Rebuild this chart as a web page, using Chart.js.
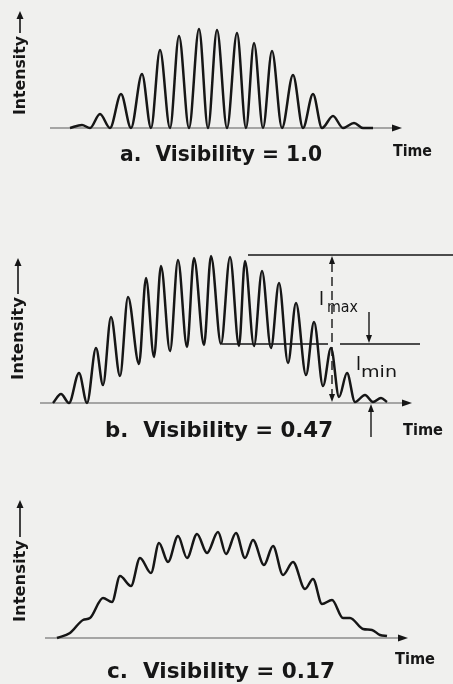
<!DOCTYPE html>
<html>
<head>
<meta charset="utf-8">
<script src="https://cdn.jsdelivr.net/npm/chart.js@4.4.0/dist/chart.umd.min.js"></script>
<style>
    html, body { margin: 0; padding: 0; background: #f0f0ee; }
    body { width: 453px; height: 684px; position: relative; overflow: hidden; }
    .panel { position: absolute; left: 0; width: 453px; }
</style>
</head>
<body>
<div class="panel" style="top:0;height:170px"><canvas id="chartA"></canvas></div>
<div class="panel" style="top:230px;height:220px"><canvas id="chartB"></canvas></div>
<div class="panel" style="top:470px;height:214px"><canvas id="chartC"></canvas></div>
<script>
// Panel a: visibility 1.0 (fringes go to zero)
const timeA = [3.0, 4.2, 5.0, 6.0, 7.0, 8.1, 9.1, 10.2, 11.1, 12.0, 13.0, 13.9, 14.9, 15.9, 16.8, 17.7,
    18.7, 19.7, 20.6, 21.4, 22.3, 23.2, 24.2, 25.3, 26.3, 27.3, 28.2, 29.3, 30.3, 31.4, 32.3, 33.3];
const intensityA = [0, 0.03, 0, 0.14, 0, 0.34, 0, 0.54, 0, 0.78, 0, 0.92, 0, 0.99, 0, 0.98,
    0, 0.95, 0, 0.85, 0, 0.77, 0, 0.53, 0, 0.34, 0, 0.12, 0, 0.05, 0, 0];

// Panel b: visibility 0.47
const timeB = [1.3, 2.1, 2.9, 3.9, 4.7, 5.6, 6.3, 7.1, 8.0, 8.8, 9.9, 10.6, 11.4, 12.1, 13.0, 13.8,
    14.7, 15.4, 16.4, 17.1, 18.1, 19.0, 19.9, 20.5, 21.4, 22.2, 23.1, 23.9, 24.8, 25.6, 26.6, 27.4,
    28.3, 29.1, 29.9, 30.7, 31.5, 32.5, 33.3, 34.1, 34.7];
const intensityB = [0, 0.09, 0, 0.30, 0, 0.55, 0.18, 0.86, 0.27, 1.06, 0.39, 1.25, 0.46, 1.37, 0.52, 1.43,
    0.56, 1.45, 0.58, 1.47, 0.59, 1.46, 0.57, 1.42, 0.57, 1.32, 0.55, 1.20, 0.40, 1.00, 0.28, 0.81,
    0.17, 0.55, 0.06, 0.30, 0.01, 0.08, 0.01, 0.05, 0.01];

// Panel c: visibility 0.17
const timeC = [1.7, 3.0, 4.3, 5.0, 6.3, 7.2, 8.0, 9.1, 10.0, 11.1, 11.9, 12.8, 13.8, 14.7, 15.7, 16.7,
    17.8, 18.6, 19.6, 20.5, 21.3, 22.4, 23.3, 24.3, 25.3, 26.5, 27.3, 28.2, 29.2, 30.3, 31.0, 32.3,
    33.2, 34.0, 34.7];
const intensityC = [0, 0.05, 0.18, 0.20, 0.40, 0.36, 0.62, 0.52, 0.80, 0.65, 0.95, 0.76, 1.02, 0.80, 1.04, 0.85,
    1.06, 0.84, 1.05, 0.80, 0.98, 0.73, 0.92, 0.63, 0.76, 0.49, 0.59, 0.34, 0.38, 0.20, 0.20, 0.09,
    0.08, 0.03, 0.02];

// time axis extent (start, arrow tip) for each panel
const axisA = [1.0, 36.2];
const axisB = [0.0, 37.2];
const axisC = [0.5, 36.8];

// panel b markers: levels and where the guide lines run
const iMaxLevel = 1.48;
const iMinLevel = 0.59;
const iMaxLine = [20.8, 41.3];
const iMinLines = [[18.2, 28.8], [30.0, 38.0]];
const markTime = 29.2;

const FONT = '"DejaVu Sans", sans-serif';
const INK = '#161616';

function fitText(ctx, text, x, baseline, width, font) {
    ctx.save();
    ctx.font = font;
    const w = ctx.measureText(text).width;
    ctx.translate(x, baseline);
    ctx.scale(width / w, 1);
    ctx.textAlign = 'left';
    ctx.textBaseline = 'alphabetic';
    ctx.fillStyle = INK;
    ctx.fillText(text, 0, 0);
    ctx.restore();
}

function arrowHead(ctx, x, y, dir, len, half) {
    ctx.beginPath();
    if (dir === 'right') { ctx.moveTo(x, y); ctx.lineTo(x - len, y - half); ctx.lineTo(x - len, y + half); }
    if (dir === 'up') { ctx.moveTo(x, y); ctx.lineTo(x - half, y + len); ctx.lineTo(x + half, y + len); }
    if (dir === 'down') { ctx.moveTo(x, y); ctx.lineTo(x - half, y - len); ctx.lineTo(x + half, y - len); }
    ctx.closePath();
    ctx.fillStyle = INK;
    ctx.fill();
}

function line(ctx, x1, y1, x2, y2, width, color, dash) {
    ctx.save();
    ctx.beginPath();
    ctx.setLineDash(dash || []);
    ctx.moveTo(x1, y1);
    ctx.lineTo(x2, y2);
    ctx.lineWidth = width;
    ctx.strokeStyle = color;
    ctx.stroke();
    ctx.restore();
}

function intensityLabel(ctx, x, bottom, top, tip) {
    ctx.save();
    ctx.translate(x, bottom);
    ctx.rotate(-Math.PI / 2);
    fitText(ctx, 'Intensity', 0, 5, bottom - top, 'bold 15px ' + FONT);
    ctx.restore();
    line(ctx, x, top - 3, x, tip + 6, 1.6, INK);
    arrowHead(ctx, x, tip, 'up', 8, 3.5);
}

function makeChart(id, time, intensity, yMax, padTop, padBottom, axis, labels, extras) {
    const ctx = document.getElementById(id).getContext('2d');
    return new Chart(ctx, {
        type: 'line',
        data: {
            datasets: [{
                data: time.map((t, i) => ({ x: t, y: intensity[i] })),
                borderColor: INK,
                borderWidth: 2.5,
                pointRadius: 0,
                cubicInterpolationMode: 'monotone',
                fill: false,
                clip: false
            }]
        },
        options: {
            responsive: true,
            maintainAspectRatio: false,
            animation: false,
            devicePixelRatio: 1,
            layout: { padding: { left: 40, right: 41, top: padTop, bottom: padBottom } },
            plugins: { legend: { display: false }, tooltip: { enabled: false } },
            scales: {
                x: { type: 'linear', min: 0, max: 37.2, display: false },
                y: { min: 0, max: yMax, display: false }
            }
        },
        plugins: [{
            id: 'figure',
            beforeDatasetsDraw(chart) {
                const c = chart.ctx;
                const xs = chart.scales.x, ys = chart.scales.y;
                const y0 = ys.getPixelForValue(0);
                const xa = xs.getPixelForValue(axis[0]);
                const xb = xs.getPixelForValue(axis[1]);
                line(c, xa, y0, xb - 8, y0, 1.2, '#5a5a5a');
                arrowHead(c, xb, y0, 'right', 10, 3.5);
            },
            afterDraw(chart) {
                const c = chart.ctx;
                fitText(c, labels.title, labels.titleX[0], labels.titleY, labels.titleX[1] - labels.titleX[0], 'bold 21px ' + FONT);
                fitText(c, 'Time', labels.timeX[0], labels.timeY, labels.timeX[1] - labels.timeX[0], 'bold 15px ' + FONT);
                intensityLabel(c, labels.yLab[0], labels.yLab[1], labels.yLab[2], labels.yLab[3]);
                if (extras) extras(chart);
            }
        }]
    });
}

makeChart('chartA', timeA, intensityA, 1.08, 20, 42, axisA, {
    title: 'a.  Visibility = 1.0', titleX: [120, 322], titleY: 161,
    timeX: [393, 432], timeY: 156, yLab: [20, 115, 36, 11]
});

makeChart('chartB', timeB, intensityB, 1.60, 13, 47, axisB, {
    title: 'b.  Visibility = 0.47', titleX: [105, 333], titleY: 207,
    timeX: [403, 443], timeY: 205, yLab: [18, 150, 67, 28]
}, chart => {
    const c = chart.ctx;
    const xs = chart.scales.x, ys = chart.scales.y;
    const yMaxPx = ys.getPixelForValue(iMaxLevel);
    const yMinPx = ys.getPixelForValue(iMinLevel);
    const y0 = ys.getPixelForValue(0);
    line(c, xs.getPixelForValue(iMaxLine[0]), yMaxPx, xs.getPixelForValue(iMaxLine[1]), yMaxPx, 1.4, INK);
    iMinLines.forEach(s => line(c, xs.getPixelForValue(s[0]), yMinPx, xs.getPixelForValue(s[1]), yMinPx, 1.4, INK));
    const xm = xs.getPixelForValue(markTime);
    line(c, xm, yMaxPx + 8, xm, y0 - 8, 1.4, INK, [9, 5]);
    arrowHead(c, xm, yMaxPx + 1, 'up', 8, 3);
    arrowHead(c, xm, y0 - 1, 'down', 8, 3);
    // I_min arrows
    const xd = 369, xu = 371;
    line(c, xd, 82, xd, yMinPx - 7, 1.4, INK);
    arrowHead(c, xd, yMinPx - 1, 'down', 8, 3);
    line(c, xu, 207, xu, y0 + 8, 1.4, INK);
    arrowHead(c, xu, y0 + 1, 'up', 8, 3);
    // labels
    fitText(c, 'I', 319, 75, 5, '19px ' + FONT);
    fitText(c, 'max', 327, 82, 31, '15px ' + FONT);
    fitText(c, 'I', 356, 140, 5, '19px ' + FONT);
    fitText(c, 'min', 361, 147, 36, '15px ' + FONT);
});

makeChart('chartC', timeC, intensityC, 1.50, 18, 46, axisC, {
    title: 'c.  Visibility = 0.17', titleX: [107, 335], titleY: 208,
    timeX: [395, 435], timeY: 194, yLab: [20, 152, 70, 30]
});
</script>
</body>
</html>
